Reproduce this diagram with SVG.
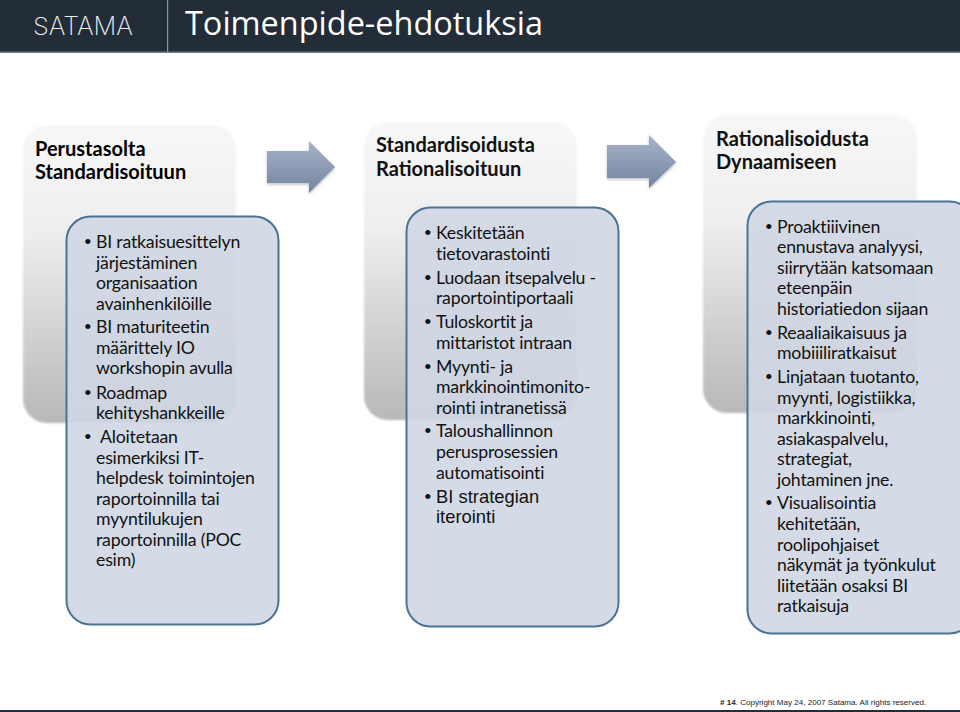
<svg xmlns="http://www.w3.org/2000/svg" width="960" height="712" viewBox="0 0 960 712">
<style>
.h{font:700 20px "Lato","Carlito",sans-serif;fill:#111}
.t{font:400 17.700px "Lato","Carlito",sans-serif;letter-spacing:-.2px;fill:#111}
.b{font:400 19px "Liberation Sans",Arial,sans-serif;letter-spacing:0;fill:#111}
.a{font:400 18.400px "Liberation Sans",Arial,sans-serif;fill:#111}
.panel{fill:url(#pg);filter:url(#soft)}
.box{fill:#cfd7e3;fill-opacity:.9;stroke:#4c7393;stroke-width:2}
.arrow{fill:url(#ag);filter:url(#sh)}
</style>
<defs>
<linearGradient id="pg" x1="0" y1="0" x2="0" y2="1"><stop offset="0" stop-color="#f7f7f7"/><stop offset=".35" stop-color="#efefef"/><stop offset="1" stop-color="#b8b8b8"/></linearGradient>
<linearGradient id="ag" x1="0" y1="0" x2="0" y2="1"><stop offset="0" stop-color="#a6b3ca"/><stop offset="1" stop-color="#75859f"/></linearGradient>
<filter id="soft" x="-5%" y="-5%" width="110%" height="110%"><feGaussianBlur stdDeviation=".8"/></filter>
<filter id="sh" x="-10%" y="-10%" width="125%" height="130%"><feGaussianBlur stdDeviation=".6" result="s"/><feDropShadow in="s" dx="0" dy="1.500" stdDeviation="1.500" flood-color="#000" flood-opacity=".25"/></filter>
</defs>
<rect width="960" height="712" fill="#fff"/>
<g id="header">
<rect width="960" height="52" fill="#222d38"/>
<rect y="51.500" width="960" height="1.500" fill="#77808a"/>
<rect x="167" width="1.200" height="52" fill="#8c949c"/>
<text x="33" y="35" font-family="Inter,'Liberation Sans',sans-serif" font-weight="200" font-size="25" fill="#eef0f2" textLength="100" lengthAdjust="spacingAndGlyphs">SATAMA</text>
<text x="185" y="35" font-family="'Open Sans','DejaVu Sans',sans-serif" font-size="33" fill="#fff" textLength="358" lengthAdjust="spacingAndGlyphs">Toimenpide-ehdotuksia</text>
</g>
<g id="connectors">
<path class="arrow" d="M267 151H309V141L335 167L309 193V183H267Z"/>
<path class="arrow" d="M607 145H649V135L676 162L649 188V178H607Z"/>
</g>
<g id="phase1">
<rect class="panel" x="23" y="125" width="213" height="298" rx="24"/>
<text class="h" style="fill:#000"><tspan x="35" y="155.500">Perustasolta</tspan><tspan x="35" y="179">Standardisoituun</tspan></text>
<rect class="box" x="66.500" y="216.500" width="212" height="408" rx="24"/>
<g class="t">
<text class="b" x="84.500" y="248">•</text><text x="96" y="248">BI ratkaisuesittelyn</text>
<text x="96" y="268.500">järjestäminen</text>
<text x="96" y="289">organisaation</text>
<text x="96" y="309.500">avainhenkilöille</text>
<text class="b" x="84.500" y="333">•</text><text x="96" y="333">BI maturiteetin</text>
<text x="96" y="353.500">määrittely IO</text>
<text x="96" y="374">workshopin avulla</text>
<text class="b" x="84.500" y="398.500">•</text><text x="96" y="398.500">Roadmap</text>
<text x="96" y="419">kehityshankkeille</text>
<text class="b" x="84.500" y="443">•</text><text x="100" y="443">Aloitetaan</text>
<text x="96" y="463.500">esimerkiksi IT-</text>
<text x="96" y="484">helpdesk toimintojen</text>
<text x="96" y="504.500">raportoinnilla tai</text>
<text x="96" y="525">myyntilukujen</text>
<text x="96" y="545.500">raportoinnilla (POC</text>
<text x="96" y="566">esim)</text>
</g>
</g>
<g id="phase2">
<rect class="panel" x="364" y="122" width="213" height="298" rx="24"/>
<text class="h"><tspan x="376" y="152">Standardisoidusta</tspan><tspan x="376" y="175.500">Rationalisoituun</tspan></text>
<rect class="box" x="406.500" y="207.500" width="212" height="419" rx="24"/>
<g class="t">
<text class="b" x="424.500" y="239">•</text><text x="436" y="239">Keskitetään</text>
<text x="436" y="260">tietovarastointi</text>
<text class="b" x="424.500" y="283.500">•</text><text x="436" y="283.500">Luodaan itsepalvelu -</text>
<text x="436" y="304">raportointiportaali</text>
<text class="b" x="424.500" y="328">•</text><text x="436" y="328">Tuloskortit ja</text>
<text x="436" y="348.500">mittaristot intraan</text>
<text class="b" x="424.500" y="372.500">•</text><text x="436" y="372.500">Myynti- ja</text>
<text x="436" y="393">markkinointimonito-</text>
<text x="436" y="413.500">rointi intranetissä</text>
<text class="b" x="424.500" y="437">•</text><text x="436" y="437">Taloushallinnon</text>
<text x="436" y="458">perusprosessien</text>
<text x="436" y="478.500">automatisointi</text>
<text class="b" x="424.500" y="503">•</text>
</g>
<text class="a" x="436" y="503">BI strategian</text>
<text class="a" x="436" y="522.500">iterointi</text>
</g>
<g id="phase3">
<rect class="panel" x="703" y="115" width="214" height="298" rx="24"/>
<text class="h"><tspan x="716" y="145.500">Rationalisoidusta</tspan><tspan x="716" y="169">Dynaamiseen</tspan></text>
<rect class="box" x="747.500" y="201.500" width="226" height="432" rx="24"/>
<g class="t">
<text class="b" x="765.500" y="232.500">•</text><text x="777" y="232.500">Proaktiiivinen</text>
<text x="777" y="253">ennustava analyysi,</text>
<text x="777" y="273.500">siirrytään katsomaan</text>
<text x="777" y="294">eteenpäin</text>
<text x="777" y="314.500">historiatiedon sijaan</text>
<text class="b" x="765.500" y="338.500">•</text><text x="777" y="338.500">Reaaliaikaisuus ja</text>
<text x="777" y="359">mobiiiliratkaisut</text>
<text class="b" x="765.500" y="383">•</text><text x="777" y="383">Linjataan tuotanto,</text>
<text x="777" y="403.500">myynti, logistiikka,</text>
<text x="777" y="424">markkinointi,</text>
<text x="777" y="444.500">asiakaspalvelu,</text>
<text x="777" y="465">strategiat,</text>
<text x="777" y="486">johtaminen jne.</text>
<text class="b" x="765.500" y="509">•</text><text x="777" y="509">Visualisointia</text>
<text x="777" y="530">kehitetään,</text>
<text x="777" y="550.500">roolipohjaiset</text>
<text x="777" y="571">näkymät ja työnkulut</text>
<text x="777" y="591.500">liitetään osaksi BI</text>
<text x="777" y="612">ratkaisuja</text>
</g>
</g>
<g id="footer">
<text x="720" y="705" font-family="'Liberation Sans',Arial,sans-serif" font-size="8.050" fill="#222"><tspan font-weight="700"># 14</tspan>. Copyright May 24, 2007 Satama. All rights reserved.</text>
<rect y="710" width="960" height="2" fill="#222d38"/>
</g>
</svg>
